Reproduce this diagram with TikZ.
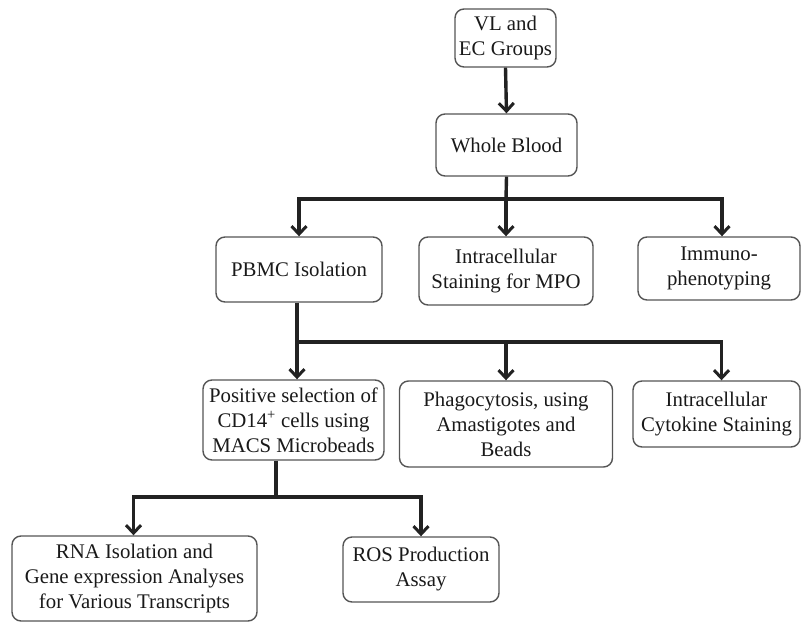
\documentclass[tikz,border=0pt]{standalone}
\usepackage{fontspec}
\setmainfont{Liberation Serif}
\usetikzlibrary{arrows.meta}
\definecolor{linecol}{HTML}{222222}
\definecolor{boxcol}{HTML}{555555}
\tikzset{
  box/.style={draw=boxcol, line width=1.4pt, rounded corners=9pt, align=center,
    inner sep=0pt, font=\fontsize{20.8}{25}\selectfont, text=black!90},
  conn/.style={draw=linecol, line width=3.4pt},
  arr/.style={conn, -{Straight Barb[length=8pt,width=15pt,line width=3pt]}},
}
\begin{document}
\begin{tikzpicture}[x=1pt,y=-1pt]
\useasboundingbox (0,0) rectangle (802,623);
\node[box, minimum width=101, minimum height=58] (vl) at (505.5,38) {VL and\\EC Groups};
\node[box, minimum width=141, minimum height=62] (wb) at (506.5,145) {Whole Blood};
\node[box, minimum width=166, minimum height=65] (pbmc) at (299,269.5) {PBMC Isolation};
\node[box, minimum width=174, minimum height=68] (mpo) at (506,271) {Intracellular\\Staining for MPO};
\node[box, minimum width=162, minimum height=63] (imm) at (719,268.5) {Immuno-\\phenotyping};
\node[box, minimum width=181, minimum height=80] (cd14) at (293.5,420) {Positive selection of\\CD14\textsuperscript{+} cells using\\MACS Microbeads};
\node[box, minimum width=213, minimum height=86] (phago) at (506,424) {Phagocytosis, using\\Amastigotes and\\Beads};
\node[box, minimum width=167, minimum height=66] (cyto) at (716.5,414) {Intracellular\\Cytokine Staining};
\node[box, minimum width=245, minimum height=85] (rna) at (134.5,578.5) {RNA Isolation and\\Gene expression Analyses\\for Various Transcripts};
\node[box, minimum width=156, minimum height=65] (ros) at (421,569.5) {ROS Production\\Assay};

\coordinate (j1) at (506,199);
\coordinate (j2) at (297,342);
\coordinate (j3) at (276,497);

\draw[arr] (vl.south) -- (wb.north);
\draw[conn] (wb.south) -- (j1);
\draw[arr] (j1) -| (pbmc.north);
\draw[arr] (j1) -- (mpo.north);
\draw[arr] (j1) -| ([xshift=3]imm.north);

\draw[conn] (j2 |- pbmc.south) -- (j2);
\draw[arr] (j2) -- (j2 |- cd14.north);
\draw[arr] (j2) -| (phago.north);
\draw[arr] (j2) -| ([xshift=5]cyto.north);

\draw[conn] (j3 |- cd14.south) -- (j3);
\draw[arr] (j3) -| ([xshift=-1]rna.north);
\draw[arr] (j3) -| (ros.north);
\end{tikzpicture}
\end{document}
